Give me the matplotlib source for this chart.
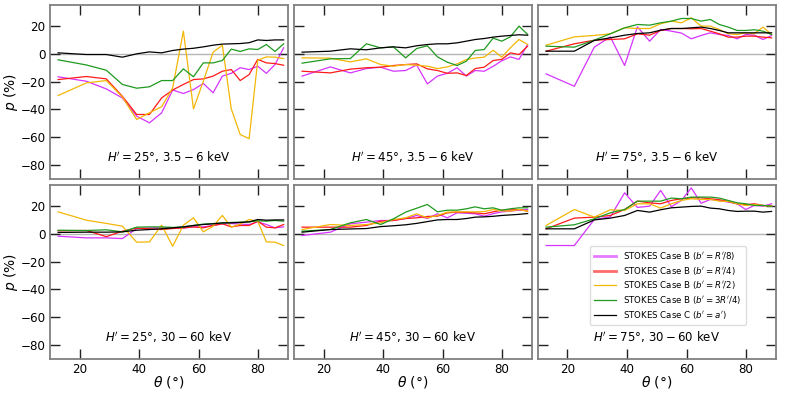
import matplotlib
matplotlib.use("Agg")
import matplotlib.pyplot as plt

# theta bins (deg)
theta = [12.8, 22.3, 29.0, 34.4, 39.2, 43.5, 47.6, 51.3, 54.9, 58.3,
         61.6, 64.9, 68.0, 71.0, 74.0, 77.0, 79.9, 82.8, 85.7, 88.6]

labels = [r"STOKES Case B ($b' = R'/8$)", r"STOKES Case B ($b' = R'/4$)",
          r"STOKES Case B ($b' = R'/2$)", r"STOKES Case B ($b' = 3R'/4$)",
          r"STOKES Case C ($b' = a'$)"]
colors = ["#d633ff", "#ff1a1a", "#f2b705", "#1f9a1f", "black"]

panel_titles = [r"$H' = 25°$, $3.5-6$ keV", r"$H' = 45°$, $3.5-6$ keV", r"$H' = 75°$, $3.5-6$ keV",
                r"$H' = 25°$, $30-60$ keV", r"$H' = 45°$, $30-60$ keV", r"$H' = 75°$, $30-60$ keV"]

# H'=25, 3.5-6 keV
h25_soft_b8 = [-16.5, -19.7, -25.2, -31.7, -44.8, -49.6, -42.4, -26, -28.5, -25.7,
               -21.3, -28, -16, -14, -10, -11.3, -8.9, -14, -7.7, 4.3]
h25_soft_b4 = [-18.5, -16.3, -18, -30.5, -43.6, -43.6, -31.7, -26, -22, -18.5,
               -18, -16, -12.5, -11.3, -19.2, -14.9, -4, -6.5, -7, -8.2]
h25_soft_b2 = [-30, -20.9, -19.2, -31, -47.2, -42.4, -38, -24.5, 16.3, -39.6,
               -19.7, 1.2, 6.2, -39.6, -58, -61, -4.6, -2.2, -2.4, -3.4]
h25_soft_b34 = [-4.3, -8, -11.8, -22, -24.7, -23.7, -19.2, -19.2, -10.8, -16.5,
                -6.5, -6.5, -4.8, 3.4, 1.7, 3.6, 3.1, 6.7, 1.7, 7.2]
h25_soft_c = [0.7, -0.5, -0.5, -2.4, 0, 1.4, 0.7, 2.4, 3.4, 4,
              5, 6.2, 7, 7.2, 7.4, 8, 10, 9.6, 10, 10]

# H'=45, 3.5-6 keV
h45_soft_b8 = [-16, -9.4, -13.7, -10.6, -9.6, -12.5, -12, -8, -21.6, -16,
               -14, -10, -16, -12, -12.5, -9, -5, -2.2, -4, 6.7]
h45_soft_b4 = [-12.5, -13.7, -11, -10, -9.6, -8.4, -7.7, -7.2, -10.8, -12,
               -14, -13.7, -15.6, -10.6, -9.6, -4.8, -4, 0.7, -0.5, 5.5]
h45_soft_b2 = [-2.9, -3.1, -5.8, -3.6, -7.7, -8.9, -7.7, -8.2, -8.9, -10.6,
               -9.4, -7.2, -4.1, -3, -2.4, 2.6, -2.4, 4.3, 10.3, 6.7]
h45_soft_b34 = [-6.7, -3.6, -3.4, 7.2, 4.3, 5, -2.9, 3.8, 5.8, -2.2,
                -6, -8.4, -5.3, 2.4, 3.1, 11.3, 9.1, 12.2, 19.9, 13.9]
h45_soft_c = [1.2, 1.9, 3.6, 2.9, 4.3, 5, 4.3, 5.8, 6.7, 7.2,
              7.2, 7.9, 9.1, 10.3, 11, 12, 12.7, 13.2, 13.7, 13.4]

# H'=75, 3.5-6 keV
h75_soft_b8 = [-14.4, -23.3, 4.8, 12.2, -8.4, 19.4, 9.1, 17.5, 16.3, 14.9,
               10.8, 13.2, 15.1, 13.9, 13.2, 10.8, 13.9, 13.4, 10.3, 13.2]
h75_soft_b4 = [1.9, 7.2, 9.8, 10.3, 10.8, 14.4, 13.4, 16.8, 18.2, 18.2,
               18, 18.2, 16.3, 14.4, 12, 12, 12.7, 12.7, 12, 11.5]
h75_soft_b2 = [6.2, 12.2, 13.2, 14.4, 18.7, 18.2, 18.2, 21.6, 23.5, 22.3,
               25.9, 19.9, 19.9, 17.5, 14.4, 13.9, 15.1, 14.4, 19.2, 13.9]
h75_soft_b34 = [5.5, 4.8, 9.8, 14.4, 18.7, 21.1, 20.6, 22.3, 23.5, 25.4,
                25.4, 23.5, 24.7, 21.1, 19.2, 16.8, 16.8, 17.3, 16.3, 13.9]
h75_soft_c = [1.9, 1.9, 9.6, 11.5, 13.4, 14.6, 15.1, 17, 18.2, 18.2,
              18.7, 19.2, 18.2, 16.8, 15.1, 15.1, 15.1, 15.1, 15.1, 15.1]

# H'=25, 30-60 keV
h25_hard_b8 = [-1.7, -2.9, -2.9, -3.4, 3.8, 4.3, 4.3, 4.3, 4.1, 5,
               5, 6, 7.2, 7.4, 7, 6.7, 8.6, 6.7, 4.3, 5]
h25_hard_b4 = [2.2, 2.4, -2, 1.9, 4.1, 3.6, 3.1, 3.8, 4.3, 5,
               4.3, 6, 7.2, 5, 6, 6, 9.1, 4.8, 4.3, 6.7]
h25_hard_b2 = [15.8, 9.8, 7.5, 5.5, -6, -5.8, 6.2, -8.9, 6.2, 11.5,
               1.4, 5.5, 13.2, 4.8, 7, 10.3, 9, -5.8, -6, -8.4]
h25_hard_b34 = [2.6, 2.4, 2.9, 1.4, 4.8, 5, 5, 4.6, 5, 6,
                7, 7.4, 7.7, 8.2, 8.4, 8.6, 9.4, 9.1, 9.6, 9.1]
h25_hard_c = [1, 1.2, 1.2, 1.4, 2.6, 3.1, 3.6, 4.3, 5, 6,
              6.7, 7.2, 7.9, 7.9, 8.2, 8.6, 10.3, 9.8, 10, 10]

# H'=45, 30-60 keV
h45_hard_b8 = [-1.2, 1.2, 7.2, 8.4, 9.6, 9.6, 11, 13.2, 11, 14.4,
               11.5, 15.1, 14.8, 14.4, 12.7, 14.5, 15.8, 16.3, 17, 17.5]
h45_hard_b4 = [4.8, 4.8, 4.8, 6, 9.1, 9.6, 11, 11.5, 12.5, 12.7,
               15.1, 15.6, 15.4, 15.1, 14.4, 15.8, 17, 17.2, 17.5, 16.3]
h45_hard_b2 = [3.1, 6.7, 6, 6.7, 7.9, 10.3, 11.5, 14.4, 11.5, 13.2,
               15.6, 15.8, 15.8, 15.8, 16, 17.5, 16.5, 16.3, 17.5, 16.3]
h45_hard_b34 = [1.9, 3.1, 7.9, 10.3, 6.7, 10.8, 15.6, 18.4, 21.1, 15.8,
                17, 17, 18, 19.4, 18, 18.7, 17, 18, 18.7, 18.7]
h45_hard_c = [1.2, 3.1, 3.5, 3.8, 5.2, 5.8, 6.5, 7.5, 8.8, 10,
              10.3, 10.3, 11, 12, 12.2, 12.6, 13.2, 13.6, 14, 14.6]

# H'=75, 30-60 keV
h75_hard_b8 = [-8.4, -8.4, 10.3, 12.2, 29.5, 19, 19.9, 31.2, 19.5, 24,
               33, 22, 24.7, 24, 22.8, 21.6, 17.5, 20.4, 19.9, 21.6]
h75_hard_b4 = [3.6, 11.3, 12, 13.2, 17.5, 23.5, 22.3, 21.6, 24, 25.2,
               25.9, 25.9, 25.2, 24.5, 23.3, 21.6, 20.9, 21.6, 20.4, 19.9]
h75_hard_b2 = [6, 17.5, 12, 17.3, 16.8, 21.6, 21.6, 18.5, 21.6, 24,
               25.2, 24.7, 24.7, 23.5, 23.3, 21.6, 20.4, 21.1, 20.4, 19.9]
h75_hard_b34 = [4.8, 6.5, 10.8, 15.1, 17.5, 23.5, 23.5, 23.5, 25.7, 25.2,
                26.4, 26.4, 26.4, 25.7, 24, 22.3, 21.6, 20.4, 20.4, 19.9]
h75_hard_c = [3.6, 3.6, 10, 11.3, 13.2, 16.8, 15.6, 17.3, 18.7, 19.2,
              19.7, 19.9, 18.5, 18, 16.8, 16.1, 16.3, 16.3, 15.6, 16.1]

panels = [
    [h25_soft_b8, h25_soft_b4, h25_soft_b2, h25_soft_b34, h25_soft_c],
    [h45_soft_b8, h45_soft_b4, h45_soft_b2, h45_soft_b34, h45_soft_c],
    [h75_soft_b8, h75_soft_b4, h75_soft_b2, h75_soft_b34, h75_soft_c],
    [h25_hard_b8, h25_hard_b4, h25_hard_b2, h25_hard_b34, h25_hard_c],
    [h45_hard_b8, h45_hard_b4, h45_hard_b2, h45_hard_b34, h45_hard_c],
    [h75_hard_b8, h75_hard_b4, h75_hard_b2, h75_hard_b34, h75_hard_c],
]

fig, axes = plt.subplots(2, 3, figsize=(7.9, 3.95), dpi=100, sharex=True, sharey=True)
fig.subplots_adjust(left=0.063, right=0.982, top=0.987, bottom=0.091, wspace=0.025, hspace=0.035)

for i, ax in enumerate(axes.flat):
    ax.axhline(0, color="#b5b5b5", lw=1.0, zorder=1)
    for series, col, lab in zip(panels[i], colors, labels):
        ax.plot(theta, series, color=col, lw=0.9, label=lab)
    ax.set_xlim(10, 90)
    ax.set_ylim(-90, 35)
    ax.set_xticks([20, 40, 60, 80])
    ax.set_yticks([-80, -60, -40, -20, 0, 20])
    ax.tick_params(direction="in", length=7, width=1.0, color="#222222",
                   top=True, right=True, labelsize=8.6, pad=3)
    for s in ax.spines.values():
        s.set_color("#808080")
        s.set_linewidth(1.3)
    ax.text(0.5, 0.125, panel_titles[i], transform=ax.transAxes,
            ha="center", va="center", fontsize=8.5)

for ax in axes[:, 0]:
    ax.set_ylabel(r"$p$ (%)", fontsize=10)
    ax.yaxis.set_label_coords(-0.125, 0.5)
for ax in axes[1, :]:
    ax.set_xlabel(r"$\theta$ (°)", fontsize=10)
    ax.xaxis.set_label_coords(0.5, -0.085)

leg = axes[1, 2].legend(loc="upper left", bbox_to_anchor=(0.2, 0.675), fontsize=6.2,
                        frameon=True, framealpha=1.0, edgecolor="#dddddd",
                        fancybox=True, handlelength=2.6, borderpad=0.5, labelspacing=0.3)
for h in leg.get_lines()[:2]:
    h.set_linewidth(2.0)
    h.set_alpha(0.65)

fig.savefig("out.png", dpi=100)
